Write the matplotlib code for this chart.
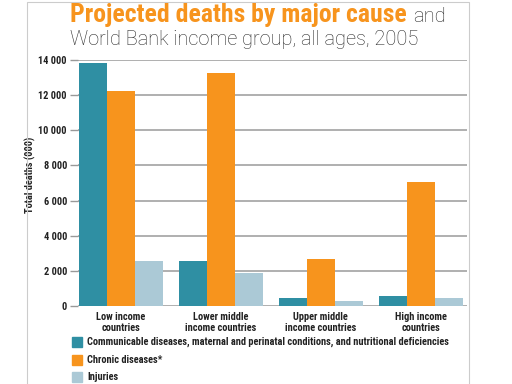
import matplotlib
matplotlib.use("Agg")
import matplotlib.pyplot as plt
import numpy as np
from matplotlib.patches import Rectangle

groups = ["Low income\ncountries", "Lower middle\nincome countries",
          "Upper middle\nincome countries", "High income\ncountries"]
communicable = [13850, 2550, 450, 550]
chronic = [12250, 13250, 2700, 7050]
injuries = [2550, 1850, 300, 450]
series_names = ["Communicable diseases, maternal and perinatal conditions, and nutritional deficiencies",
                "Chronic diseases*", "Injuries"]
yticks = [0, 2000, 4000, 6000, 8000, 10000, 12000, 14000]
ytick_labels = ["0", "2 000", "4 000", "6 000", "8 000", "10 000", "12 000", "14 000"]

colors = ["#2f8fa3", "#f7941d", "#abc9d6"]
COND = ["Roboto Condensed", "Liberation Sans", "DejaVu Sans"]
LIGHT = ["Roboto", "Liberation Sans", "DejaVu Sans"]

fig = plt.figure(figsize=(5.12, 3.84), dpi=100)
fig.patch.set_facecolor("white")

# panel frame
fig.add_artist(Rectangle((27/512, -0.01), (469-27)/512, 1 - 2/384 + 0.01,
                         transform=fig.transFigure, fill=False,
                         edgecolor="#cccccc", linewidth=0.8))

ax = fig.add_axes([78/512, 1-306/384, (467-78)/512, (306-60)/384])
x = np.arange(len(groups))
w = 0.28
for i, (vals, c) in enumerate(zip([communicable, chronic, injuries], colors)):
    ax.bar(x + (i-1)*w, vals, width=w, color=c, zorder=3, label=series_names[i])

ax.set_xlim(-0.425, 3.465)
ax.set_ylim(0, 14000)
ax.set_yticks(yticks)
ax.set_yticklabels(ytick_labels, family=COND, fontsize=7.5, fontweight="bold", color="#222222")
ax.set_xticks(x)
ax.set_xticklabels(groups, family=COND, fontsize=7.5, fontweight="bold", color="#222222",
                   linespacing=1.2)
ax.tick_params(axis="x", length=0, pad=4)
ax.tick_params(axis="y", length=6, color="#999999", width=1, pad=2)
for s in ["top", "right", "left", "bottom"]:
    ax.spines[s].set_visible(False)
for t in yticks:
    ax.axhline(t, color="#9a9a9a", linewidth=1.1, zorder=1)
ax.set_ylabel("Total deaths (000)", family=COND, fontsize=7.5, fontweight="bold",
              color="#222222")
ax.yaxis.set_label_coords(-0.108, 0.535)

# title
fig.text(70/512, 1-22/384, "Projected deaths by major cause", family=COND,
         fontsize=18.5, fontweight="heavy", color="#f7941d", va="baseline", ha="left")
fig.text(413/512, 1-22/384, "and", family=LIGHT, fontweight="light",
         fontsize=14.5, color="#2a2a2a", va="baseline", ha="left")
fig.text(70/512, 1-45/384, "World Bank income group, all ages, 2005",
         family=LIGHT, fontweight="light", fontsize=14.4, color="#2a2a2a",
         va="baseline", ha="left")

# legend
for i, (name, c) in enumerate(zip(series_names, colors)):
    yc = [342, 360, 377][i]
    fig.add_artist(Rectangle((72/512, 1-(yc+5)/384), 10/512, 10/384,
                             transform=fig.transFigure, color=c))
    fig.text(87/512, 1-yc/384, name, family=COND, fontsize=7.5, fontweight="bold",
             color="#222222", va="center", ha="left")

fig.savefig("out.png", dpi=100, facecolor="white")
